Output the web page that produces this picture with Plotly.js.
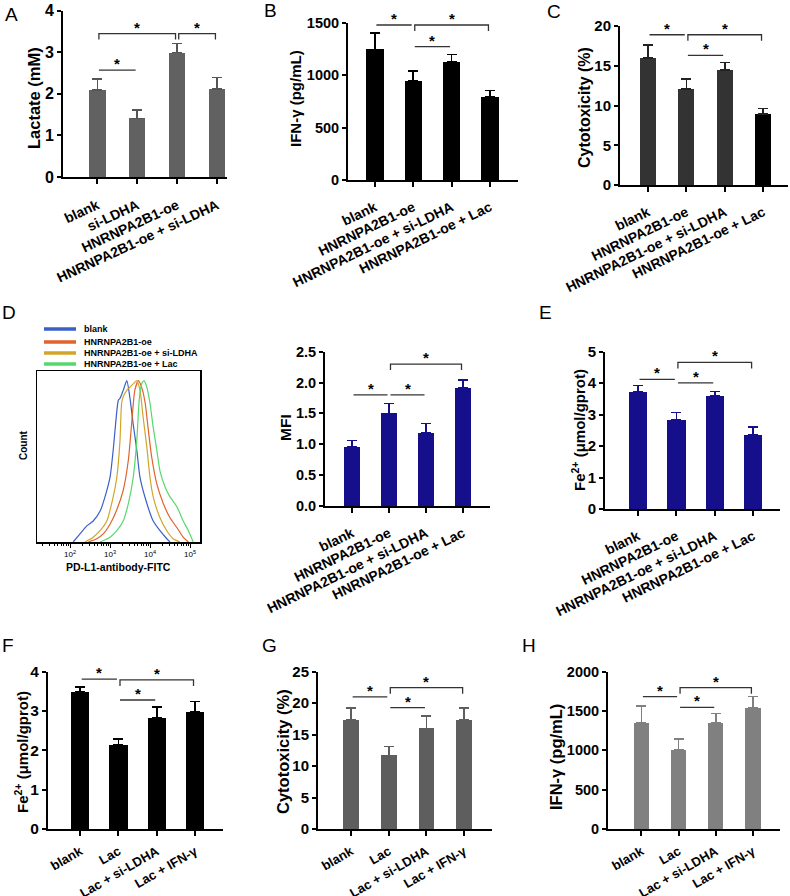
<!DOCTYPE html>
<html>
<head>
<meta charset="utf-8">
<script src="https://cdn.plot.ly/plotly-3.0.1.min.js"></script>
<style>html,body{margin:0;padding:0;background:#fff}#plot{width:790px;height:896px}</style>
</head>
<body>
<div id="plot"></div>
<script>
// ---------------- DATA ----------------
const groupsA = ['blank', 'si-LDHA', 'HNRNPA2B1-oe', 'HNRNPA2B1-oe + si-LDHA'];
const lactate = [2.09, 1.41, 2.99, 2.12];
const lactateErr = [0.26, 0.20, 0.22, 0.27];
const sigA = [[0, 1, 2.57, 0], [0, 2, 3.45, 1], [2, 3, 3.45, 1]];

const groupsBE = ['blank', 'HNRNPA2B1-oe', 'HNRNPA2B1-oe + si-LDHA', 'HNRNPA2B1-oe + Lac'];
const ifnB = [1246, 944, 1125, 795];
const ifnBErr = [153, 95, 73, 60];
const sigB = [[0, 1, 1478, 0], [1, 3, 1478, 1], [1, 2, 1271, 0]];

const cytoC = [16.0, 12.1, 14.5, 8.9];
const cytoCErr = [1.6, 1.2, 0.9, 0.7];
const sigC = [[0, 1, 18.9, 0], [1, 3, 18.9, 1], [1, 2, 16.3, 0]];

const mfi = [0.96, 1.50, 1.19, 1.91];
const mfiErr = [0.10, 0.16, 0.15, 0.13];
const sigMFI = [[0, 1, 1.80, 0], [1, 2, 1.80, 0], [1, 3, 2.30, 1]];

const feE = [3.71, 2.83, 3.60, 2.36];
const feEErr = [0.21, 0.24, 0.13, 0.24];
const sigE = [[0, 1, 4.12, 0], [1, 2, 4.01, 0], [1, 3, 4.66, 1]];

const groupsFH = ['blank', 'Lac', 'Lac + si-LDHA', 'Lac + IFN-γ'];
const feF = [3.49, 2.14, 2.83, 2.97];
const feFErr = [0.12, 0.15, 0.27, 0.27];
const sigF = [[0, 1, 3.81, 0], [1, 2, 3.28, 0], [1, 3, 3.79, 1]];

const cytoG = [17.3, 11.7, 16.0, 17.3];
const cytoGErr = [1.9, 1.4, 1.95, 1.95];
const sigG = [[0, 1, 21.0, 0], [1, 2, 19.3, 0], [1, 3, 22.46, 1]];

const ifnH = [1353, 1006, 1345, 1535];
const ifnHErr = [212, 136, 126, 148];
const sigH = [[0, 1, 1683, 0], [1, 2, 1547, 0], [1, 3, 1797, 1]];

// Flow cytometry histograms (x: log10 fluorescence, y: % of max count)
const histNames = ['blank', 'HNRNPA2B1-oe', 'HNRNPA2B1-oe + si-LDHA', 'HNRNPA2B1-oe + Lac'];
const histColors = ['#3b5fc9', '#e0622c', '#d2a52a', '#57d86c'];
const blankLog = [2.08, 2.25, 2.42, 2.58, 2.75, 2.875, 3.0, 3.08, 3.17, 3.21, 3.25, 3.33, 3.42, 3.5, 3.58, 3.67, 3.75, 3.92, 4.08, 4.25, 4.42, 4.5];
const blankCnt = [0, 5, 10, 13, 19, 28, 40, 57, 81, 88, 89, 94, 100, 89, 73, 57, 40, 24, 13, 7, 2, 0];
const oeLog = [2.46, 2.67, 2.83, 3.0, 3.17, 3.33, 3.46, 3.54, 3.62, 3.71, 3.79, 3.88, 3.96, 4.04, 4.17, 4.33, 4.5, 4.67, 4.83, 4.96];
const oeCnt = [0, 2, 5, 11, 20, 32, 51, 73, 94, 100, 96, 86, 69, 53, 36, 24, 15, 9, 3, 0];
const siLog = [2.375, 2.58, 2.75, 2.92, 3.08, 3.17, 3.25, 3.29, 3.33, 3.42, 3.5, 3.58, 3.67, 3.75, 3.83, 3.92, 4.0, 4.08, 4.25, 4.42, 4.58, 4.75];
const siCnt = [0, 3, 7, 13, 28, 40, 63, 86, 90, 94, 96, 98, 100, 94, 77, 59, 40, 28, 15, 7, 2, 0];
const lacLog = [2.75, 3.0, 3.17, 3.33, 3.46, 3.58, 3.67, 3.73, 3.79, 3.85, 3.92, 4.0, 4.08, 4.17, 4.25, 4.38, 4.5, 4.67, 4.83, 4.96, 5.08];
const lacCnt = [0, 3, 7, 13, 24, 40, 63, 88, 98, 100, 96, 86, 71, 57, 44, 34, 28, 22, 13, 7, 0];

// ---------------- LAYOUT HELPERS ----------------
const W = 790, H = 896;
const px = (a, b) => [a / W, b / W];
const py = (top, bot) => [1 - bot / H, 1 - top / H];
const FONT = 'Liberation Sans, Arial, Helvetica, sans-serif';

const traces = [];
const shapes = [];
const annotations = [];
const layout = {
  width: W, height: H, margin: {l: 0, r: 0, t: 0, b: 0},
  paper_bgcolor: '#fff', plot_bgcolor: 'rgba(0,0,0,0)',
  showlegend: false, font: {family: FONT, color: '#000'},
  shapes: shapes, annotations: annotations, bargap: 0
};

function yTitle(text, xc, yc, size) {
  annotations.push({xref: 'paper', yref: 'paper', x: xc / W, y: 1 - yc / H, xanchor: 'center', yanchor: 'middle',
    textangle: -90, text: text, showarrow: false, font: {family: FONT, size: size, weight: 'bold', color: '#000'}});
}

function barPanel(id, cfg) {
  const xa = 'xaxis' + (id === 1 ? '' : id), ya = 'yaxis' + (id === 1 ? '' : id);
  const xr = 'x' + (id === 1 ? '' : id), yr = 'y' + (id === 1 ? '' : id);
  const idx = cfg.groups.map((g, i) => i);
  traces.push({
    type: 'bar', x: idx, y: cfg.values, xaxis: xr, yaxis: yr, width: cfg.barWidth,
    marker: {color: cfg.colors, line: {width: 0}},
    error_y: {type: 'data', array: cfg.errs, arrayminus: cfg.errs.map(() => 0), symmetric: false,
      color: cfg.errColor, thickness: 1.6, width: 5},
    hoverinfo: 'none'
  });
  layout[xa] = {
    domain: px(cfg.xpx[0], cfg.xpx[1]), anchor: yr, range: cfg.xrange,
    tickvals: idx, ticktext: cfg.groups, tickangle: cfg.angle, ticklabelstandoff: cfg.standoff,
    tickfont: {family: FONT, size: cfg.xfont, weight: 'bold', color: '#000'},
    showline: true, linewidth: 2, linecolor: '#000', ticks: 'outside', ticklen: 5, tickwidth: 2, tickcolor: '#000',
    showgrid: false, zeroline: false, fixedrange: true
  };
  layout[ya] = {
    domain: py(cfg.ypx[0], cfg.ypx[1]), anchor: xr, range: cfg.yrange, dtick: cfg.dtick,
    tickfont: {family: FONT, size: cfg.yfont, weight: 'bold', color: '#000'},
    showline: true, linewidth: 2, linecolor: '#000', ticks: 'outside', ticklen: 4, tickwidth: 2, tickcolor: '#000',
    showgrid: false, zeroline: false, fixedrange: true, tickformat: cfg.tickformat || ''
  };
  yTitle(cfg.ytitle, cfg.title[0], cfg.title[1], cfg.tfont);
  // significance lines / brackets
  const hpx = cfg.ypx[1] - cfg.ypx[0];
  const perPx = (cfg.yrange[1] - cfg.yrange[0]) / hpx;
  const drop = 6 * perPx;
  cfg.sig.forEach(s => {
    const a = s[0] + 0.04, b = s[1] - 0.04, y = s[2];
    const path = s[3]
      ? `M ${a},${y - drop} L ${a},${y} L ${b},${y} L ${b},${y - drop}`
      : `M ${a},${y} L ${b},${y}`;
    shapes.push({type: 'path', xref: xr, yref: yr, path: path, line: {color: '#333', width: 1.3}});
    annotations.push({xref: xr, yref: yr, x: (s[0] + s[1]) / 2, y: y, text: '*', showarrow: false,
      yanchor: 'bottom', yshift: -4, font: {family: FONT, size: 15, weight: 'bold', color: '#000'}});
  });
}

barPanel(1, {groups: groupsA, values: lactate, errs: lactateErr, colors: '#616161', errColor: '#555',
  xpx: [63, 227], ypx: [10.7, 177], xrange: [-0.86, 3.25], yrange: [0, 4], dtick: 1, barWidth: 0.41,
  angle: -25, standoff: 8, xfont: 14, yfont: 16, tfont: 16.5, ytitle: 'Lactate (mM)', title: [34, 98], sig: sigA});
barPanel(2, {groups: groupsBE, values: ifnB, errs: ifnBErr, colors: '#000', errColor: '#000',
  xpx: [348, 518], ypx: [22.7, 180], xrange: [-0.7, 3.73], yrange: [0, 1500], dtick: 500, barWidth: 0.45,
  angle: -26, standoff: 7, xfont: 14, yfont: 14.5, tfont: 15, ytitle: 'IFN-γ (pg/mL)', title: [296, 99], sig: sigB});
barPanel(3, {groups: groupsBE, values: cytoC, errs: cytoCErr, colors: ['#333', '#333', '#333', '#000'], errColor: '#222',
  xpx: [620, 788], ypx: [26, 185], xrange: [-0.73, 3.65], yrange: [0, 20], dtick: 5, barWidth: 0.42,
  angle: -26, standoff: 7, xfont: 14, yfont: 15, tfont: 16, ytitle: 'Cytotoxicity (%)', title: [584, 108], sig: sigC});
barPanel(5, {groups: groupsBE, values: mfi, errs: mfiErr, colors: '#150f8c', errColor: '#150f8c',
  xpx: [325, 490], ypx: [351.7, 506], xrange: [-0.73, 3.73], yrange: [0, 2.5], dtick: 0.5, barWidth: 0.42,
  angle: -26, standoff: 7, xfont: 14, yfont: 14.5, tfont: 15.5, ytitle: 'MFI', title: [285, 428], sig: sigMFI, tickformat: '.1f'});
barPanel(6, {groups: groupsBE, values: feE, errs: feEErr, colors: '#150f8c', errColor: '#150f8c',
  xpx: [605, 780], ypx: [351.7, 509], xrange: [-0.86, 3.7], yrange: [0, 5], dtick: 1, barWidth: 0.48,
  angle: -26, standoff: 7, xfont: 14, yfont: 15, tfont: 15, ytitle: 'Fe<sup>2+</sup> (μmol/gprot)', title: [578, 430], sig: sigE});
barPanel(7, {groups: groupsFH, values: feF, errs: feFErr, colors: '#000', errColor: '#000',
  xpx: [48, 223], ypx: [671.7, 829], xrange: [-0.84, 3.73], yrange: [0, 4], dtick: 1, barWidth: 0.48,
  angle: -30, standoff: 3, xfont: 13, yfont: 15.5, tfont: 15, ytitle: 'Fe<sup>2+</sup> (μmol/gprot)', title: [21, 752], sig: sigF});
barPanel(8, {groups: groupsFH, values: cytoG, errs: cytoGErr, colors: '#5e5e5e', errColor: '#5e5e5e',
  xpx: [318, 492], ypx: [671.7, 829], xrange: [-0.88, 3.74], yrange: [0, 25], dtick: 5, barWidth: 0.42,
  angle: -30, standoff: 3, xfont: 13, yfont: 15, tfont: 16.5, ytitle: 'Cytotoxicity (%)', title: [283, 752], sig: sigG});
barPanel(9, {groups: groupsFH, values: ifnH, errs: ifnHErr, colors: '#808080', errColor: '#808080',
  xpx: [608, 780], ypx: [671.7, 829], xrange: [-0.9, 3.73], yrange: [0, 2000], dtick: 500, barWidth: 0.41,
  angle: -30, standoff: 3, xfont: 13, yfont: 14.5, tfont: 16.5, ytitle: 'IFN-γ (pg/mL)', title: [556, 757], sig: sigH});

// ---------------- HISTOGRAM (panel D left) ----------------
const histX = [blankLog, oeLog, siLog, lacLog];
const histY = [blankCnt, oeCnt, siCnt, lacCnt];
histNames.forEach((n, i) => {
  traces.push({type: 'scatter', mode: 'lines', name: n, x: histX[i].map(v => Math.pow(10, v)), y: histY[i],
    xaxis: 'x4', yaxis: 'y4', line: {color: histColors[i], width: 1.2, shape: 'spline', smoothing: 0.6}, hoverinfo: 'none'});
});
const minorVals = [];
[1, 2, 3, 4, 5].forEach(d => { for (let k = 2; k <= 9; k++) minorVals.push(k * Math.pow(10, d)); });
layout.xaxis4 = {
  domain: px(37, 200), anchor: 'y4', type: 'log', range: [1.175, 5.25],
  tickvals: [100, 1000, 10000, 100000], ticktext: ['10<sup>2</sup>', '10<sup>3</sup>', '10<sup>4</sup>', '10<sup>5</sup>'],
  tickfont: {family: FONT, size: 8, color: '#000'}, ticks: 'outside', ticklen: 4, tickwidth: 1, tickcolor: '#000',
  minor: {tickvals: minorVals, ticks: 'outside', ticklen: 2.5, tickwidth: 1, tickcolor: '#000', showgrid: false},
  showline: true, mirror: true, linewidth: 1.5, linecolor: '#000', showgrid: false, zeroline: false
};
layout.yaxis4 = {
  domain: py(371, 542), anchor: 'x4', range: [0, 106], showticklabels: false, ticks: '',
  showline: true, mirror: true, linewidth: 1.5, linecolor: '#000', showgrid: false, zeroline: false
};
yTitle('Count', 23, 445, 10);
annotations.push({xref: 'paper', yref: 'paper', x: 118 / W, y: 1 - 567 / H, xanchor: 'center', yanchor: 'middle',
  text: 'PD-L1-antibody-FITC', showarrow: false, font: {family: FONT, size: 10.5, weight: 'bold', color: '#000'}});
// histogram legend (drawn as key lines + labels)
const legendRows = [329, 342, 353, 364];
histNames.forEach((n, i) => {
  shapes.push({type: 'line', xref: 'paper', yref: 'paper', x0: 44 / W, x1: 76 / W,
    y0: 1 - legendRows[i] / H, y1: 1 - legendRows[i] / H, line: {color: histColors[i], width: 3.5}});
  annotations.push({xref: 'paper', yref: 'paper', x: 82 / W, y: 1 - legendRows[i] / H, xanchor: 'left', yanchor: 'middle',
    text: n, showarrow: false, font: {family: FONT, size: 9, weight: 'bold', color: '#000'}});
});

// ---------------- PANEL LETTERS ----------------
const letters = [['A', 3, 14], ['B', 262, 10], ['C', 545, 12], ['D', 0, 312], ['E', 537, 312], ['F', 0, 645], ['G', 260, 645], ['H', 520, 645]];
letters.forEach(l => annotations.push({xref: 'paper', yref: 'paper', x: l[1] / W, y: 1 - l[2] / H, xanchor: 'left', yanchor: 'middle',
  text: l[0], showarrow: false, font: {family: FONT, size: 19, color: '#000'}}));

Plotly.newPlot('plot', traces, layout, {staticPlot: true, displayModeBar: false});
</script>
</body>
</html>
